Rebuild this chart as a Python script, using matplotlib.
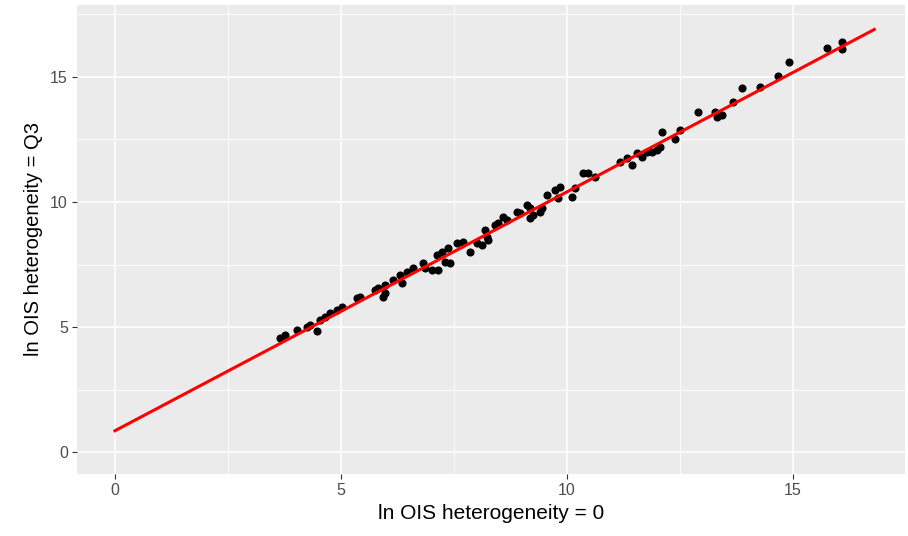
import matplotlib
matplotlib.use("Agg")
import matplotlib.pyplot as plt
from matplotlib.ticker import MultipleLocator

plt.rcParams['font.family'] = ['Liberation Sans', 'DejaVu Sans']

# Observed points
x_pts = [3.65, 3.76, 4.03, 4.25, 4.31, 4.47, 4.54, 4.65, 4.76, 4.91, 5.02, 5.35, 5.42,
         5.75, 5.82, 5.93, 5.97, 5.97, 6.15, 6.35, 6.31, 6.46, 6.59, 6.81, 6.86, 7.01,
         7.15, 7.12, 7.23, 7.37, 7.30, 7.41, 7.57, 7.70, 7.85, 8.01, 8.12, 8.19, 8.25,
         8.41, 8.47, 8.23, 8.58, 8.67, 8.89, 8.96, 9.12, 9.18, 9.18, 9.25, 9.40, 9.45,
         9.56, 9.73, 9.85, 9.80, 10.11, 10.18, 10.35, 10.46, 10.62, 11.17, 11.33, 11.44,
         11.55, 11.66, 11.77, 11.88, 11.99, 12.06, 12.10, 12.39, 12.50, 12.90, 13.27,
         13.32, 13.43, 13.67, 13.87, 14.27, 14.67, 14.91, 15.75, 16.08, 16.08]
y_pts = [4.56, 4.68, 4.88, 5.00, 5.08, 4.84, 5.28, 5.40, 5.56, 5.68, 5.80, 6.16, 6.20,
         6.48, 6.56, 6.20, 6.36, 6.68, 6.88, 6.76, 7.08, 7.20, 7.36, 7.56, 7.36, 7.28,
         7.28, 7.88, 8.00, 8.16, 7.60, 7.56, 8.36, 8.40, 8.00, 8.36, 8.28, 8.88, 8.48,
         9.08, 9.16, 8.60, 9.40, 9.28, 9.60, 9.56, 9.88, 9.76, 9.36, 9.48, 9.60, 9.76,
         10.28, 10.48, 10.60, 10.16, 10.20, 10.56, 11.16, 11.16, 11.00, 11.60, 11.76, 11.48,
         11.96, 11.80, 12.00, 12.00, 12.08, 12.20, 12.80, 12.52, 12.88, 13.60, 13.60,
         13.40, 13.48, 14.00, 14.56, 14.60, 15.04, 15.60, 16.16, 16.40, 16.12]

# Fitted red line
line_x = [0.0, 16.8]
line_y = [0.85, 16.9]

x_ticks = [0, 5, 10, 15]
y_ticks = [0, 5, 10, 15]

fig = plt.figure(figsize=(9.08, 5.36), dpi=100)
ax = fig.add_axes([77/908, 1 - 474/536, (905-77)/908, (474-5)/536])
ax.set_facecolor('#EBEBEB')
for s in ax.spines.values():
    s.set_visible(False)

ax.set_xlim(-0.84, 17.48)
ax.set_ylim(-0.88, 17.88)
ax.set_xticks(x_ticks)
ax.set_yticks(y_ticks)
ax.xaxis.set_minor_locator(MultipleLocator(2.5))
ax.yaxis.set_minor_locator(MultipleLocator(2.5))
ax.grid(which='major', color='white', linewidth=1.1)
ax.grid(which='minor', color='white', linewidth=0.55)
ax.set_axisbelow(True)
ax.tick_params(which='major', length=3.5, width=0.8, color='#333333',
               labelcolor='#4D4D4D', labelsize=11.5, pad=3)
ax.tick_params(which='minor', length=0)

ax.scatter(x_pts, y_pts, s=34, color='black', zorder=3, linewidths=0)
ax.plot(line_x, line_y, color='red', linewidth=2.2, zorder=4)

ax.set_xlabel('ln OIS heterogeneity = 0', fontsize=15, color='black', labelpad=4)
ax.set_ylabel('ln OIS heterogeneity = Q3', fontsize=14.5, color='black', labelpad=5)

fig.savefig('out.png', dpi=100)
